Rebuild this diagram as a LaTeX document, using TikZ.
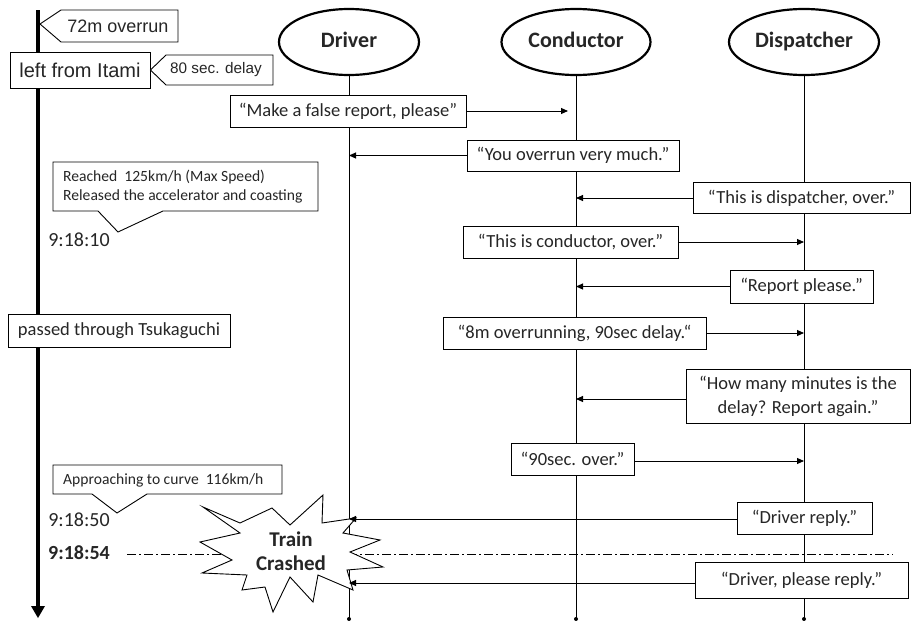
\documentclass[tikz,border=0pt]{standalone}
\usepackage{fontspec}
\setmainfont{Carlito}
\newfontfamily\gothic{Liberation Sans}
\usetikzlibrary{arrows.meta,shapes.geometric}
\definecolor{ink}{RGB}{38,38,38}
\begin{document}
\begin{tikzpicture}[x=1pt,y=-1pt, every node/.style={text=ink},
  actor/.style={ellipse, draw, line width=2.2pt, fill=white, minimum height=66pt, inner sep=0pt, text height=14pt, text depth=3pt, font=\bfseries\fontsize{22}{26}\selectfont},
  msgbox/.style={draw, line width=0.9pt, fill=white, inner sep=0pt, align=center, font=\fontsize{18.5}{22}\selectfont},
  lifeline/.style={line width=0.9pt},
  msg/.style={line width=0.9pt, -{Triangle[length=7pt,width=6pt]}},
  notebox/.style={draw, line width=0.9pt, fill=white},
  notetext/.style={inner sep=0pt, align=left, font=\fontsize{15.6}{19}\selectfont},
  timelabel/.style={inner sep=0pt, font=\fontsize{20}{24}\selectfont},
  gothictext/.style={inner sep=0pt, font=\gothic},
  dashdot/.style={line width=0.8pt, dash pattern=on 9pt off 3pt on 2pt off 3pt}
]
\useasboundingbox (0,0) rectangle (911,621);

% actors
\node[actor, minimum width=140pt] (drv) at (349,42) {Driver};
\node[actor, minimum width=149pt] (cnd) at (576,42) {Conductor};
\node[actor, minimum width=150pt] (dsp) at (804,42) {Dispatcher};

% lifeline ends
\coordinate (drvEnd) at (349,619);
\coordinate (cndEnd) at (576,619);
\coordinate (dspEnd) at (804,619);
\draw[lifeline] (drv.south) -- (drvEnd);
\draw[lifeline] (cnd.south) -- (cndEnd);
\draw[lifeline] (dsp.south) -- (dspEnd);
\fill (drvEnd) circle (2pt) (cndEnd) circle (2pt) (dspEnd) circle (2pt);

% time axis
\coordinate (axTop) at (38,10);
\coordinate (axEnd) at (38,608);
\draw[line width=3.5pt] (axTop) -- (axEnd);
\fill (31,606) -- (45,606) -- (38,618) -- cycle;

% crash line
\node[timelabel, font=\bfseries\fontsize{20}{24}\selectfont] (t54) at (79,553) {9:18:54};
\coordinate (crashEnd) at (893,554);
\draw[dashdot] (127,554) -- (crashEnd);

% left notes
\draw[notebox] (40,24) -- (61,10) -- (178,10) -- (178,42) -- (61,42) -- cycle;
\node[gothictext, font=\gothic\fontsize{18}{21}\selectfont] (n72) at (118,26) {72m overrun};
\node[draw, line width=0.9pt, fill=white, minimum width=140pt, minimum height=36pt, inner sep=0pt, font=\gothic\fontsize{20}{23}\selectfont] (itami) at (80,70) {left from Itami};
\draw[notebox] (itami.east) -- (166,55) -- (273,55) -- (273,85) -- (166,85) -- cycle;
\node[gothictext, font=\gothic\fontsize{15.3}{18}\selectfont] (n80) at (216,70) {80 sec. delay};

\draw[notebox] (53,162) -- (318,162) -- (318,211) -- (163,211) -- (118,232) -- (98,211) -- (53,211) -- cycle;
\node[notetext, anchor=west] (reach) at (63,186.5) {Reached\ \ 125km/h (Max Speed)\\Released the accelerator and coasting};
\node[timelabel] (t10) at (79,240) {9:18:10};

\node[draw, line width=0.9pt, fill=white, minimum width=222pt, minimum height=33pt, inner sep=0pt, font=\fontsize{18.5}{22}\selectfont] (tsuka) at (119,330.5) {passed through Tsukaguchi};

\draw[notebox] (53,465) -- (282,465) -- (282,494) -- (147,494) -- (117,513) -- (92,494) -- (53,494) -- cycle;
\node[notetext, anchor=west] (curve) at (63,480) {Approaching to curve\ \ 116km/h};
\node[timelabel] (t50) at (79,520) {9:18:50};

% crash star
\draw[line width=0.9pt, fill=white, line join=miter]
  (203,507) -- (240,523) -- (272,508) -- (290,525) -- (323,495) -- (322,523)
  -- (356,518) -- (343,533) -- (380,540) -- (350,552) -- (383,567) -- (347,570)
  -- (353,590) -- (318,575) -- (313,602) -- (290,577) -- (273,612) -- (265,587)
  -- (242,590) -- (247,575) -- (202,573) -- (232,560) -- (200,542) -- (240,533) -- cycle;
\node[align=center, inner sep=0pt, font=\bfseries\fontsize{21}{24}\selectfont] (crash) at (291,551) {Train\\Crashed};

% messages
\node[msgbox, minimum width=236pt, minimum height=32pt] (m1) at (348,111) {“Make a false report, please”};
\node[msgbox, minimum width=212pt, minimum height=31pt] (m2) at (573,155.5) {“You overrun very much.”};
\node[msgbox, minimum width=217pt, minimum height=31pt] (m3) at (801.5,198) {“This is dispatcher, over.”};
\node[msgbox, minimum width=215pt, minimum height=32pt] (m4) at (570.5,242) {“This is conductor, over.”};
\node[msgbox, minimum width=143pt, minimum height=33pt] (m5) at (801.5,286.5) {“Report please.”};
\node[msgbox, minimum width=263pt, minimum height=32pt] (m6) at (574.5,333) {“8m overrunning, 90sec delay.“};
\node[msgbox, minimum width=224pt, minimum height=54pt, font=\fontsize{18.5}{24}\selectfont] (m7) at (798,396) {“How many minutes is the\\delay? Report again.”};
\node[msgbox, minimum width=123pt, minimum height=32pt] (m8) at (572.5,459) {“90sec. over.”};
\node[msgbox, minimum width=135pt, minimum height=32pt] (m9) at (804.5,518) {“Driver reply.”};
\node[msgbox, minimum width=213pt, minimum height=36pt] (m10) at (801.5,580) {“Driver, please reply.”};

\draw[msg, shorten >=8pt] (m1.east) -- (m1.east -| cnd.south);
\draw[msg] (m2.west) -- (m2.west -| drv.south);
\draw[msg] (m3.west) -- (m3.west -| cnd.south);
\draw[msg] (m4.east) -- (m4.east -| dsp.south);
\draw[msg] (m5.west) -- (m5.west -| cnd.south);
\draw[msg] (m6.east) -- (m6.east -| dsp.south);
\draw[msg] ([yshift=-3pt]m7.west) -- ([yshift=-3pt]m7.west -| cnd.south);
\draw[msg] ([yshift=-2pt]m8.east) -- ([yshift=-2pt]m8.east -| dsp.south);
\draw[msg] ([yshift=-1pt]m9.west) -- ([yshift=-1pt]m9.west -| drv.south);
\draw[msg] ([yshift=-3pt]m10.west) -- ([yshift=-3pt]m10.west -| drv.south);
\end{tikzpicture}
\end{document}
